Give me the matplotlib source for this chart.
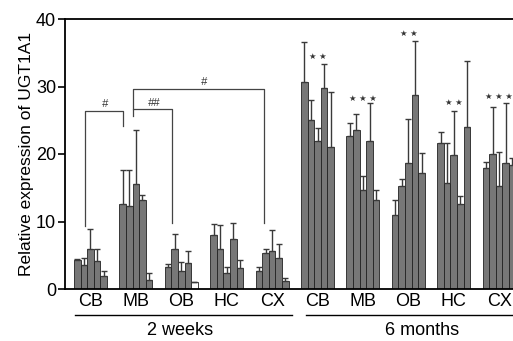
import matplotlib
matplotlib.use("Agg")
from matplotlib import pyplot as plt
import numpy as np

plt.rcParams['font.family'] = ['Liberation Sans', 'DejaVu Sans']

regions = ["CB", "MB", "OB", "HC", "CX"]
periods = ["2 weeks", "6 months"]

# mean values, 5 bars per region
mean_2w = [[4.3, 3.5, 6.0, 4.2, 1.9],
           [12.6, 12.3, 15.5, 13.2, 1.3],
           [3.2, 5.9, 2.6, 3.9, 1.1],
           [8.0, 6.0, 2.3, 7.4, 3.1],
           [2.7, 5.3, 5.6, 4.6, 1.2]]
err_2w = [[0.2, 1.1, 2.9, 1.7, 0.8],
          [5.1, 5.3, 8.0, 0.7, 1.0],
          [0.5, 2.2, 1.4, 1.8, 0.0],
          [1.6, 3.5, 0.9, 2.4, 1.2],
          [0.6, 0.6, 3.1, 2.1, 0.5]]
mean_6m = [[30.7, 25.1, 21.9, 29.8, 21.0],
           [22.6, 23.6, 14.6, 22.0, 13.2],
           [11.0, 15.3, 18.6, 28.8, 17.2],
           [21.6, 15.7, 19.9, 12.6, 24.0],
           [17.9, 20.0, 15.2, 18.7, 18.4]]
err_6m = [[5.9, 2.9, 1.9, 3.5, 8.2],
          [2.0, 2.3, 2.1, 5.6, 1.5],
          [2.2, 1.0, 6.6, 8.0, 3.0],
          [1.6, 6.0, 6.5, 1.2, 9.8],
          [0.9, 6.9, 5.1, 8.8, 1.0]]
stars_6m = [2, 3, 2, 2, 3]
star_y_6m = [34.4, 28.2, 37.8, 27.6, 28.5]

means = mean_2w + mean_6m
errs = err_2w + err_6m

pitch = 6.88
fig = plt.figure(figsize=(5.13, 3.41), dpi=100)
ax = fig.add_axes([65/513, 52/341, 448/513, 270/341])

for i in range(10):
    x = i*pitch + np.arange(5)
    faces = ['#777777']*5
    if i == 2:
        faces[4] = 'white'
    ax.bar(x, means[i], width=1.0, color=faces, edgecolor='#222222', linewidth=0.6, zorder=2)
    ax.errorbar(x, means[i], yerr=[np.zeros(5), errs[i]], fmt='none', ecolor='#3a3a3a',
                elinewidth=1.0, capsize=2.2, capthick=1.0, zorder=3)

for i in range(5):
    cx = (i+5)*pitch + 2
    ax.text(cx, star_y_6m[i], " ".join(["\u2605"]*stars_6m[i]), ha='center', va='center',
            fontsize=6, family='DejaVu Sans', color='#333333')

# significance brackets, 2 weeks
lc = '#444444'
ax.plot([1.2, 1.2, 6.9, 6.9], [9.3, 26.4, 26.4, 24.2], color=lc, lw=0.9)
ax.text(4.2, 26.6, "#", ha='center', va='bottom', fontsize=8, style='italic', color='#333333')
ax.plot([8.5, 8.5, 14.3, 14.3], [25.6, 26.6, 26.6, 9.8], color=lc, lw=0.9)
ax.text(11.6, 26.8, "##", ha='center', va='bottom', fontsize=8, style='italic', color='#333333')
ax.plot([8.5, 8.5, 28.3, 28.3], [26.6, 29.7, 29.7, 9.8], color=lc, lw=0.9)
ax.text(19.2, 29.9, "#", ha='center', va='bottom', fontsize=8, style='italic', color='#333333')

ax.set_ylim(0, 40)
ax.set_xlim(-1.86, -1.86 + 448/6.6)
ax.set_yticks([0, 10, 20, 30, 40])
ax.set_xticks([])
ax.tick_params(axis='y', labelsize=13, length=5, width=1.2, pad=1.5)
ax.set_ylabel("Relative expression of UGT1A1", fontsize=12.5, labelpad=1)
for s in ['left', 'bottom', 'top']:
    ax.spines[s].set_linewidth(1.3)
ax.spines['right'].set_visible(False)

tr = ax.get_xaxis_transform()
for i in range(10):
    ax.text(i*pitch + 2, -0.047, regions[i % 5], transform=tr, ha='center', va='center', fontsize=13)
ax.plot([-0.3, 32.6], [-0.097, -0.097], transform=tr, color='black', lw=1.0, clip_on=False)
ax.plot([34.6, 70], [-0.097, -0.097], transform=tr, color='black', lw=1.0, clip_on=False)
ax.text(15.6, -0.152, periods[0], transform=tr, ha='center', va='center', fontsize=13)
ax.text(52.3, -0.152, periods[1], transform=tr, ha='center', va='center', fontsize=13)

plt.savefig("out.png", dpi=100)
